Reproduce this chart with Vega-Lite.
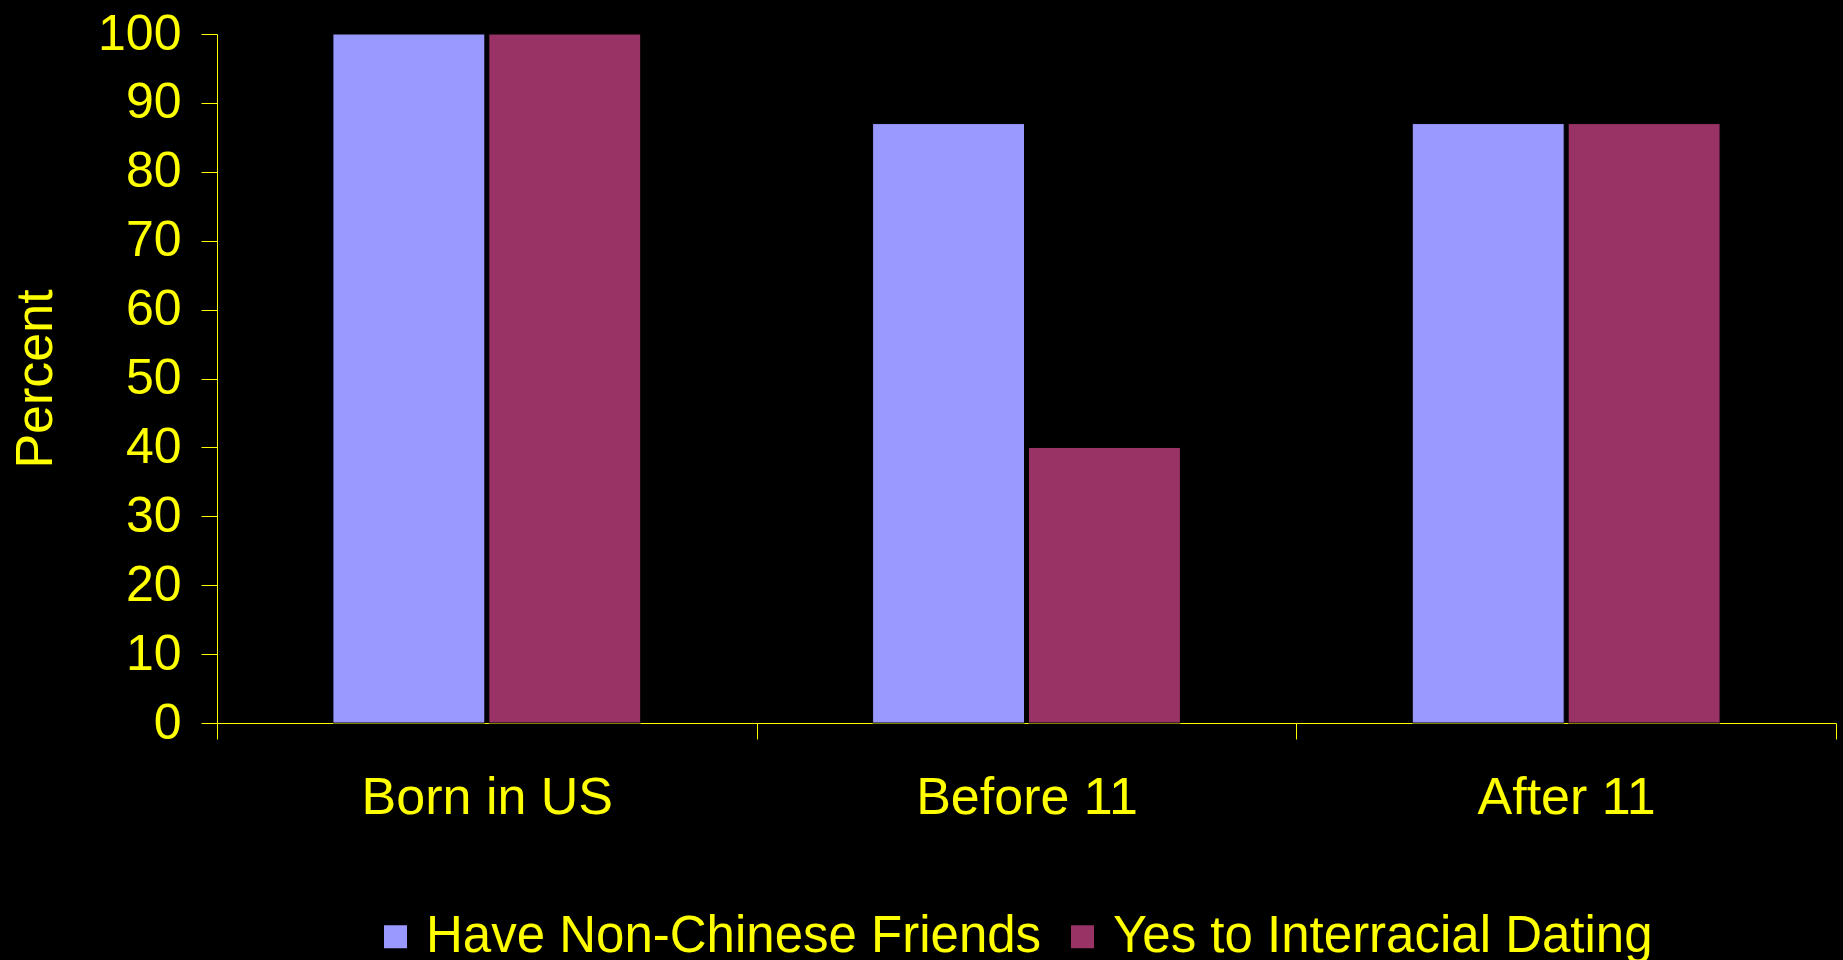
{
  "$schema": "https://vega.github.io/schema/vega-lite/v6.json",
  "autosize": {"type": "none"},
  "padding": {"left": 217, "top": 34, "right": 7, "bottom": 237},
  "width": 1619,
  "height": 689,
  "background": "#000000",
  "config": {
    "view": {"stroke": null},
    "font": "Liberation Sans"
  },
  "data": {
    "values": [
      {"group": "Born in US", "series": "Have Non-Chinese Friends", "percent": 100},
      {"group": "Born in US", "series": "Yes to Interracial Dating", "percent": 100},
      {"group": "Before 11", "series": "Have Non-Chinese Friends", "percent": 87},
      {"group": "Before 11", "series": "Yes to Interracial Dating", "percent": 40},
      {"group": "After 11", "series": "Have Non-Chinese Friends", "percent": 87},
      {"group": "After 11", "series": "Yes to Interracial Dating", "percent": 87}
    ]
  },
  "mark": {"type": "bar", "stroke": "#000000", "strokeWidth": 1},
  "encoding": {
    "x": {
      "field": "group",
      "type": "nominal",
      "sort": ["Born in US", "Before 11", "After 11"],
      "scale": {"paddingInner": 0, "paddingOuter": 0},
      "axis": {
        "title": null,
        "labelAngle": 0,
        "labelColor": "#FFFF00",
        "labelFont": "Liberation Sans",
        "labelFontSize": 52,
        "labelLimit": 1000,
        "labelPadding": 33,
        "domainColor": "#FFFF00",
        "domainWidth": 1,
        "tickColor": "#FFFF00",
        "tickSize": 16,
        "tickBand": "extent",
        "grid": false
      }
    },
    "xOffset": {
      "field": "series",
      "type": "nominal",
      "scale": {"paddingInner": 0.0256, "paddingOuter": 0.7436}
    },
    "y": {
      "field": "percent",
      "type": "quantitative",
      "scale": {"domain": [0, 100], "nice": false},
      "axis": {
        "title": "Percent",
        "titleColor": "#FFFF00",
        "titleFont": "Liberation Sans",
        "titleFontSize": 52,
        "titleFontWeight": "normal",
        "titleX": -182,
        "titleBaseline": "middle",
        "values": [0, 10, 20, 30, 40, 50, 60, 70, 80, 90, 100],
        "labelColor": "#FFFF00",
        "labelFont": "Liberation Sans",
        "labelFontSize": 50,
        "labelPadding": 20,
        "domainColor": "#FFFF00",
        "tickColor": "#FFFF00",
        "tickSize": 16,
        "grid": false
      }
    },
    "color": {
      "field": "series",
      "type": "nominal",
      "scale": {
        "domain": ["Have Non-Chinese Friends", "Yes to Interracial Dating"],
        "range": ["#9999FF", "#993366"]
      },
      "legend": {
        "title": null,
        "orient": "none",
        "direction": "horizontal",
        "legendX": 153,
        "legendY": 877,
        "symbolType": "square",
        "symbolSize": 529,
        "symbolStrokeWidth": 0,
        "labelColor": "#FFFF00",
        "labelFont": "Liberation Sans",
        "labelFontSize": 51,
        "labelOffset": 5,
        "labelLimit": 1000,
        "columnPadding": 15
      }
    }
  }
}
